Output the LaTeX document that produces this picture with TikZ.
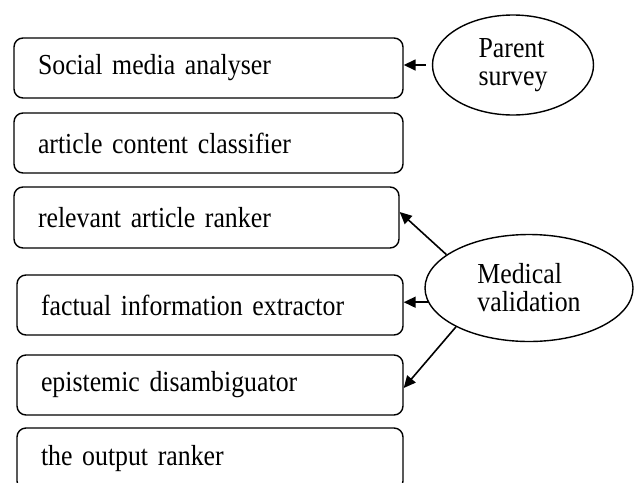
\documentclass[tikz,border=0pt]{standalone}
\usepackage{fontspec}
\setmainfont{Liberation Serif}[FakeStretch=0.89]
\usetikzlibrary{arrows.meta,shapes.geometric}
\begin{document}
\begin{tikzpicture}[x=1pt,y=-1pt,
  box/.style={draw,line width=1.4pt,rounded corners=9pt,minimum height=60pt,
    inner xsep=24pt,inner ysep=0pt,align=left,font=\fontsize{29}{30}\selectfont},
  oval/.style={draw,line width=1.4pt,ellipse,inner sep=0pt,align=left,
    font=\fontsize{29}{28}\selectfont},
  arr/.style={line width=1.6pt,-{Triangle[length=12pt,width=11pt]}}]
\useasboundingbox (0,0) rectangle (636,482);
\clip (0,0) rectangle (636,482);
\node[box,text width=341pt] (b1) at (208.5,68) {Social media analyser};
\node[box,text width=341pt] (b2) at (208.5,143) {article content classifier};
\node[box,text width=337pt,minimum height=61pt] (b3) at (206.5,217.5) {relevant article ranker};
\node[box,text width=338pt] (b4) at (210,305) {factual information extractor};
\node[box,text width=338pt] (b5) at (210,385) {epistemic disambiguator};
\node[box,text width=338pt,minimum height=62pt] (b6) at (210,459) {the output ranker};
\node[oval,minimum width=161pt,minimum height=100pt] (ps) at (513,65) {Parent\\survey};
\node[oval,minimum width=208pt,minimum height=107pt] (mv) at (529,288) {Medical\\validation};
\draw[arr,shorten <=6pt] (ps.west) -- (ps.west -| b1.east);
\draw[arr] (mv.158) -- ([yshift=5.5pt]b3.east);
\draw[arr] (mv.188) -- (mv.188 -| b4.east);
\draw[arr] (mv.208) -- ([yshift=-3pt]b5.east);
\end{tikzpicture}
\end{document}
